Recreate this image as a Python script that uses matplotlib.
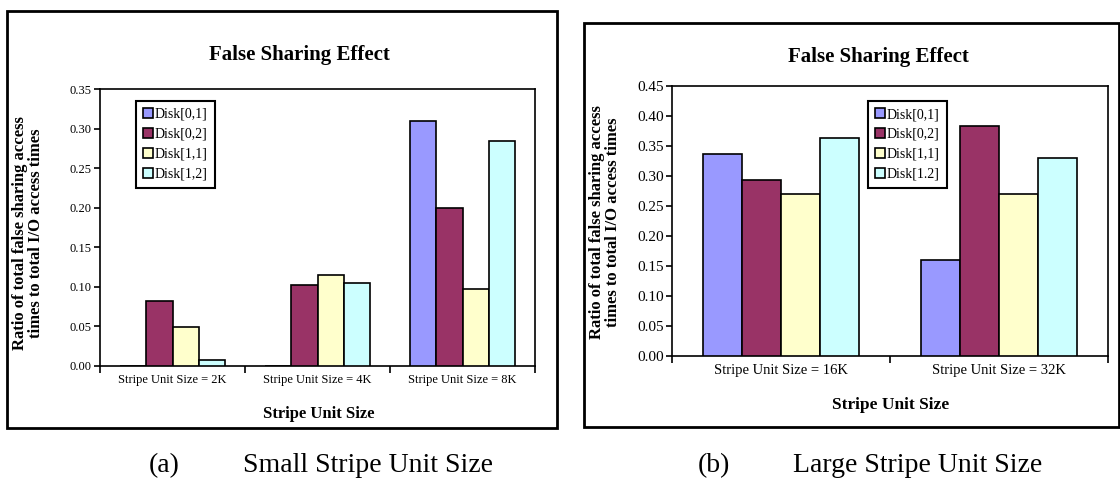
import matplotlib
matplotlib.use('Agg')
import matplotlib.pyplot as plt
import numpy as np
from matplotlib.patches import Rectangle

plt.rcParams['font.family'] = 'Liberation Serif'

series_a = ['Disk[0,1]', 'Disk[0,2]', 'Disk[1,1]', 'Disk[1,2]']
series_b = ['Disk[0,1]', 'Disk[0,2]', 'Disk[1,1]', 'Disk[1.2]']
colors = ['#9999FF', '#993366', '#FFFFCC', '#CCFFFF']

small_cats = ['Stripe Unit Size = 2K', 'Stripe Unit Size = 4K', 'Stripe Unit Size = 8K']
small_vals = [
    [0.000, 0.000, 0.310],   # Disk[0,1]
    [0.082, 0.102, 0.200],   # Disk[0,2]
    [0.049, 0.115, 0.097],   # Disk[1,1]
    [0.008, 0.105, 0.284],   # Disk[1,2]
]

large_cats = ['Stripe Unit Size = 16K', 'Stripe Unit Size = 32K']
large_vals = [
    [0.337, 0.160],
    [0.293, 0.383],
    [0.270, 0.270],
    [0.363, 0.330],
]

ylab = 'Ratio of total false sharing access\ntimes to total I/O access times'


def draw_panel(ax, cats, vals, labels, ymax, tick_fs, leg_anchor):
    x = np.arange(len(cats))
    width = 0.18
    for i, (v, c, lab) in enumerate(zip(vals, colors, labels)):
        ax.bar(x + (i - 1.5) * width, v, width, color=c, edgecolor='black',
               linewidth=1.2, label=lab, zorder=3)
    ax.set_xlim(-0.5, len(cats) - 0.5)
    ax.set_ylim(0, ymax)
    ticks = np.arange(0, ymax + 0.001, 0.05)
    ax.set_yticks(ticks)
    ax.set_yticklabels(['%.2f' % t for t in ticks], fontsize=tick_fs[1])
    ax.set_xticks(x)
    ax.set_xticklabels(cats, fontsize=tick_fs[0])
    ax.set_xticks(np.arange(-0.5, len(cats)), minor=True)
    ax.tick_params(axis='x', which='major', length=0, pad=6)
    ax.tick_params(axis='x', which='minor', length=5, width=1.2, direction='out')
    ax.tick_params(axis='y', length=4, width=1.2, direction='out', pad=2)
    for s in ax.spines.values():
        s.set_linewidth(1.2)
    leg = ax.legend(loc='upper left', bbox_to_anchor=leg_anchor, borderaxespad=0,
                    fontsize=10, fancybox=False, edgecolor='black', framealpha=1,
                    handlelength=0.7, handleheight=0.7, handletextpad=0.15,
                    labelspacing=0.5, borderpad=0.5)
    leg.get_frame().set_linewidth(1.5)


fig = plt.figure(figsize=(11.2, 4.88), dpi=100)

# outer frames
fig.patches.append(Rectangle((0.00625, 0.123), 0.491, 0.8545, transform=fig.transFigure,
                             fill=False, edgecolor='black', linewidth=2))
fig.patches.append(Rectangle((0.5214, 0.125), 0.4777, 0.828, transform=fig.transFigure,
                             fill=False, edgecolor='black', linewidth=2))

ax1 = fig.add_axes([0.0893, 0.25, 0.3884, 0.5676])
draw_panel(ax1, small_cats, small_vals, series_a, 0.35, (9, 9), (0.083, 0.957))

ax2 = fig.add_axes([0.6, 0.2705, 0.3893, 0.5533])
draw_panel(ax2, large_cats, large_vals, series_b, 0.45, (10.5, 11), (0.45, 0.944))

fig.text(299 / 1120, 1 - 55 / 488, 'False Sharing Effect', fontsize=15, fontweight='bold',
         ha='center', va='center')
fig.text(878 / 1120, 1 - 57 / 488, 'False Sharing Effect', fontsize=15, fontweight='bold',
         ha='center', va='center')

fig.text(28 / 1120, 1 - 233 / 488, ylab, fontsize=12, fontweight='bold', rotation=90,
         ha='center', va='center', linespacing=1.05)
fig.text(605 / 1120, 1 - 222 / 488, ylab, fontsize=12, fontweight='bold', rotation=90,
         ha='center', va='center', linespacing=1.05)

fig.text(319 / 1120, 1 - 414 / 488, 'Stripe Unit Size', fontsize=12, fontweight='bold',
         ha='center', va='center')
fig.text(891 / 1120, 1 - 405 / 488, 'Stripe Unit Size', fontsize=12.5, fontweight='bold',
         ha='center', va='center')

fig.text(164 / 1120, 1 - 466 / 488, '(a)', fontsize=20, ha='center', va='center')
fig.text(243 / 1120, 1 - 466 / 488, 'Small Stripe Unit Size', fontsize=20, ha='left', va='center')
fig.text(714 / 1120, 1 - 466 / 488, '(b)', fontsize=20, ha='center', va='center')
fig.text(793 / 1120, 1 - 466 / 488, 'Large Stripe Unit Size', fontsize=20, ha='left', va='center')

fig.savefig('out.png', dpi=100)
